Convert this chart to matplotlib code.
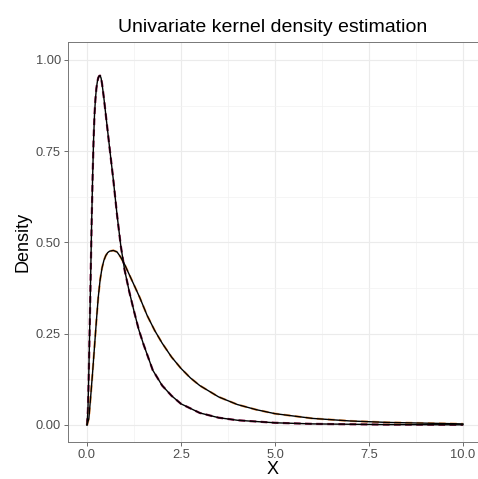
import matplotlib
matplotlib.use("Agg")
import matplotlib.pyplot as plt
from matplotlib.ticker import FixedLocator

plt.rcParams['font.family'] = ['Liberation Sans', 'DejaVu Sans']

# Curve 1 (narrow, tall) readings
x1 = [0, 0.025, 0.05, 0.075, 0.1, 0.125, 0.15, 0.175, 0.2, 0.225, 0.25, 0.275, 0.3,
      0.325, 0.35, 0.375, 0.4, 0.45, 0.5, 0.6, 0.7, 0.8, 0.9, 1.0, 1.125, 1.25,
      1.375, 1.5, 1.75, 2.0, 2.25, 2.5, 3.0, 3.5, 4.0, 5.0, 6.0, 7.0, 8.0, 10.0]
y1 = [0, 0.04, 0.15, 0.28, 0.42, 0.56, 0.68, 0.78, 0.85, 0.893, 0.922, 0.940, 0.951,
      0.956, 0.957, 0.950, 0.935, 0.895, 0.850, 0.760, 0.672, 0.575, 0.490, 0.425,
      0.365, 0.312, 0.262, 0.222, 0.150, 0.108, 0.080, 0.058, 0.033, 0.020, 0.013,
      0.006, 0.003, 0.002, 0.001, 0.0005]

# Curve 2 (wide, lower) readings
x2 = [0, 0.05, 0.1, 0.15, 0.2, 0.25, 0.3, 0.35, 0.4, 0.45, 0.5, 0.55, 0.6, 0.7, 0.8,
      0.9, 1.0, 1.2, 1.4, 1.6, 1.8, 2.0, 2.25, 2.5, 2.75, 3.0, 3.5, 4.0, 4.5, 5.0,
      6.0, 7.0, 8.0, 9.0, 10.0]
y2 = [0, 0.018, 0.08, 0.145, 0.215, 0.285, 0.350, 0.398, 0.430, 0.451, 0.464, 0.472,
      0.476, 0.478, 0.474, 0.459, 0.440, 0.395, 0.350, 0.300, 0.259, 0.224, 0.186,
      0.155, 0.129, 0.108, 0.077, 0.056, 0.042, 0.031, 0.018, 0.011, 0.007, 0.005,
      0.003]

x_ticks = [0, 2.5, 5, 7.5, 10]
x_tick_labels = ["0.0", "2.5", "5.0", "7.5", "10.0"]
y_ticks = [0, 0.25, 0.5, 0.75, 1.0]
y_tick_labels = ["0.00", "0.25", "0.50", "0.75", "1.00"]

W, H = 478, 479
fig = plt.figure(figsize=(W / 100, H / 100), dpi=100)
L, R, T, B = 68, 478, 42, 442
ax = fig.add_axes([L / W, 1 - B / H, (R - L) / W, (B - T) / H])

ax.set_xlim(-0.505, 10.40)
ax.set_ylim(-0.0466, 1.049)

ax.xaxis.set_major_locator(FixedLocator(x_ticks))
ax.yaxis.set_major_locator(FixedLocator(y_ticks))
ax.xaxis.set_minor_locator(FixedLocator([1.25, 3.75, 6.25, 8.75]))
ax.yaxis.set_minor_locator(FixedLocator([0.125, 0.375, 0.625, 0.875]))
ax.set_xticklabels(x_tick_labels)
ax.set_yticklabels(y_tick_labels)

ax.grid(which='major', color='#EBEBEB', lw=0.85)
ax.grid(which='minor', color='#F2F2F2', lw=0.5)
ax.set_axisbelow(True)
ax.tick_params(which='major', length=3.0, width=0.6, color='#555555',
               labelsize=9.3, labelcolor='#4D4D4D', pad=2.2)
ax.tick_params(which='minor', length=0)
for s in ax.spines.values():
    s.set_color('#777777')
    s.set_linewidth(0.7)

ax.plot(x1, y1, color='#8B1A4A', lw=1.6, ls=(0, (3, 2)), zorder=2)
ax.plot(x2, y2, color='#F4A05A', lw=1.6, ls=(0, (3, 2)), zorder=2)
ax.plot(x1, y1, color='black', lw=1.0, zorder=3)
ax.plot(x2, y2, color='black', lw=1.0, zorder=3)

ax.set_xlabel("X", fontsize=13, labelpad=0)
ax.set_ylabel("Density", fontsize=13, labelpad=3)
ax.set_title("Univariate kernel density estimation", fontsize=14, pad=7)

fig.savefig("out.png", dpi=100)
